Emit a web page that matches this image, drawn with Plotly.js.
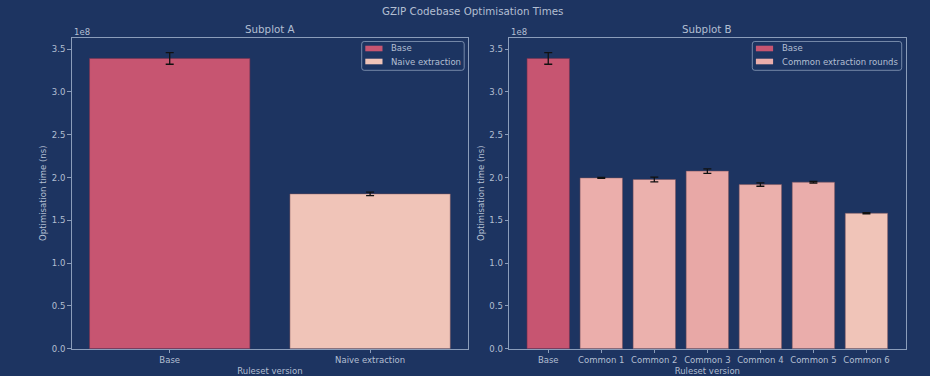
<!DOCTYPE html>
<html>
<head>
<meta charset="utf-8">
<script src="https://cdn.plot.ly/plotly-3.0.1.min.js"></script>
<style>html,body{margin:0;padding:0;background:#1d3461;}#chart{width:930px;height:376px;}</style>
</head>
<body>
<div id="chart"></div>
<script>
// ---- Data ----
const catsA = ["Base", "Naive extraction"];
const baseValue = 3.392e8;
const baseErr = 0.068e8;
const naiveValue = 1.809e8;
const naiveErr = 0.02e8;

const catsB = ["Base", "Common 1", "Common 2", "Common 3", "Common 4", "Common 5", "Common 6"];
const commonCats = ["Common 1", "Common 2", "Common 3", "Common 4", "Common 5", "Common 6"];
const commonValues = [1.996e8, 1.977e8, 2.075e8, 1.918e8, 1.946e8, 1.583e8];
const commonErrs = [0.005e8, 0.027e8, 0.026e8, 0.02e8, 0.01e8, 0.008e8];
const commonColors = ["#ebaeab", "#ebb1ad", "#e8a8a6", "#ebb0ac", "#eaadab", "#f0c4b8"];

const yTickVals = [0, 0.5e8, 1.0e8, 1.5e8, 2.0e8, 2.5e8, 3.0e8, 3.5e8];
const yTickText = ["0.0", "0.5", "1.0", "1.5", "2.0", "2.5", "3.0", "3.5"];

const legendLabelsA = ["Base", "Naive extraction"];
const legendLabelsB = ["Base", "Common extraction rounds"];

// ---- Style ----
const bg = "#1d3461";
const txt = "#b3bfd2";
const axc = "#8b9dba";
const font = "DejaVu Sans, sans-serif";
const baseColor = "#c75571";
const naiveColor = "#f0c4b8";
const W = 930, H = 376;
const px = v => v / W;
const py = v => 1 - v / H;

function errObj(arr) {
  return {type: "data", array: arr, visible: true, color: "#111111", thickness: 1.3, width: 4};
}

const traces = [
  {type: "bar", x: [catsA[0]], y: [baseValue], error_y: errObj([baseErr]), name: legendLabelsA[0],
   marker: {color: baseColor, line: {color: "rgba(120,50,80,0.6)", width: 1}}, width: 0.8,
   xaxis: "x", yaxis: "y", showlegend: false},
  {type: "bar", x: [catsA[1]], y: [naiveValue], error_y: errObj([naiveErr]), name: legendLabelsA[1],
   marker: {color: naiveColor, line: {color: "rgba(120,80,90,0.5)", width: 1}}, width: 0.8,
   xaxis: "x", yaxis: "y", showlegend: false},
  {type: "bar", x: [catsB[0]], y: [baseValue], error_y: errObj([baseErr]), name: legendLabelsB[0],
   marker: {color: baseColor, line: {color: "rgba(120,50,80,0.6)", width: 1}}, width: 0.8,
   xaxis: "x2", yaxis: "y2", showlegend: false},
  {type: "bar", x: commonCats, y: commonValues, error_y: errObj(commonErrs),
   name: legendLabelsB[1],
   marker: {color: commonColors, line: {color: "rgba(120,80,90,0.5)", width: 1}}, width: 0.8,
   xaxis: "x2", yaxis: "y2", showlegend: false}
];

const yDom = [1 - 348.7 / H, 1 - 37.7 / H];
const xDomA = [71.5 / W, 468.3 / W];
const xDomB = [509 / W, 905.7 / W];

function xAxis(dom, cats, range, anchor) {
  return {domain: dom, anchor: anchor, type: "category", categoryarray: cats, categoryorder: "array",
    range: range, showline: true, mirror: true, linecolor: axc, linewidth: 1,
    ticks: "outside", ticklen: 3.5, tickcolor: axc, showgrid: false, zeroline: false,
    tickfont: {family: font, size: 8.5, color: txt},
    title: {text: "Ruleset version", font: {family: font, size: 8.5, color: txt}, standoff: 3}};
}
function yAxis(dom, anchor) {
  return {domain: dom, anchor: anchor, range: [0, 3.634e8], showline: true, mirror: true,
    linecolor: axc, linewidth: 1, ticks: "outside", ticklen: 3.5, tickcolor: axc,
    showgrid: false, zeroline: false, tickvals: yTickVals, ticktext: yTickText,
    tickfont: {family: font, size: 8.5, color: txt},
    title: {text: "Optimisation time (ns)", font: {family: font, size: 8.5, color: txt}, standoff: 3}};
}

// rounded legend box path in paper coords
function roundBox(x0, y0, x1, y1, r) {
  const X = v => px(v).toFixed(6), Y = v => py(v).toFixed(6);
  return `M${X(x0 + r)},${Y(y0)} L${X(x1 - r)},${Y(y0)} Q${X(x1)},${Y(y0)} ${X(x1)},${Y(y0 + r)} ` +
    `L${X(x1)},${Y(y1 - r)} Q${X(x1)},${Y(y1)} ${X(x1 - r)},${Y(y1)} ` +
    `L${X(x0 + r)},${Y(y1)} Q${X(x0)},${Y(y1)} ${X(x0)},${Y(y1 - r)} ` +
    `L${X(x0)},${Y(y0 + r)} Q${X(x0)},${Y(y0)} ${X(x0 + r)},${Y(y0)} Z`;
}

function legendParts(boxX0, boxX1, labels, colors) {
  const shapes = [{type: "path", xref: "paper", yref: "paper",
    path: roundBox(boxX0, 41.5, boxX1, 70.3, 2.5),
    fillcolor: "rgba(29,52,97,0.8)", line: {color: "rgba(139,157,186,0.8)", width: 1}}];
  const anns = [];
  const rowsY = [48.5, 61.5];
  labels.forEach((lab, i) => {
    shapes.push({type: "rect", xref: "paper", yref: "paper",
      x0: px(boxX0 + 3.6), x1: px(boxX0 + 20.8), y0: py(rowsY[i] - 2.8), y1: py(rowsY[i] + 2.8),
      fillcolor: colors[i], line: {width: 0}});
    anns.push({text: lab, xref: "paper", yref: "paper", x: px(boxX0 + 27.6), y: py(rowsY[i]),
      xanchor: "left", yanchor: "middle", showarrow: false,
      font: {family: font, size: 8.5, color: txt}});
  });
  return {shapes, anns};
}

const legA = legendParts(361.7, 464.2, legendLabelsA, [baseColor, naiveColor]);
const legB = legendParts(752.3, 901.7, legendLabelsB, [baseColor, commonColors[0]]);

const layout = {
  width: W, height: H,
  paper_bgcolor: bg, plot_bgcolor: bg,
  margin: {l: 0, r: 0, t: 0, b: 0},
  barmode: "overlay",
  showlegend: false,
  font: {family: font, color: txt},
  title: {text: "GZIP Codebase Optimisation Times", font: {family: font, size: 10.3, color: txt},
    xref: "paper", x: 472.7 / W, xanchor: "center", y: 1 - 11.5 / H, yanchor: "middle"},
  xaxis: xAxis(xDomA, catsA, [-0.49, 1.49], "y"),
  yaxis: yAxis(yDom, "x"),
  xaxis2: xAxis(xDomB, catsB, [-0.74, 6.74], "y2"),
  yaxis2: yAxis(yDom, "x2"),
  shapes: legA.shapes.concat(legB.shapes),
  annotations: [
    {text: "Subplot A", xref: "paper", yref: "paper", x: (xDomA[0] + xDomA[1]) / 2, y: 1 - 28.5 / H,
     xanchor: "center", yanchor: "middle", showarrow: false, font: {family: font, size: 10.3, color: txt}},
    {text: "Subplot B", xref: "paper", yref: "paper", x: (xDomB[0] + xDomB[1]) / 2, y: 1 - 28.5 / H,
     xanchor: "center", yanchor: "middle", showarrow: false, font: {family: font, size: 10.3, color: txt}},
    {text: "1e8", xref: "paper", yref: "paper", x: xDomA[0], y: 1 - 31.5 / H,
     xanchor: "left", yanchor: "middle", showarrow: false, font: {family: font, size: 8.5, color: txt}},
    {text: "1e8", xref: "paper", yref: "paper", x: xDomB[0], y: 1 - 31.5 / H,
     xanchor: "left", yanchor: "middle", showarrow: false, font: {family: font, size: 8.5, color: txt}}
  ].concat(legA.anns, legB.anns)
};

Plotly.newPlot("chart", traces, layout, {displayModeBar: false, staticPlot: true});
</script>
</body>
</html>
